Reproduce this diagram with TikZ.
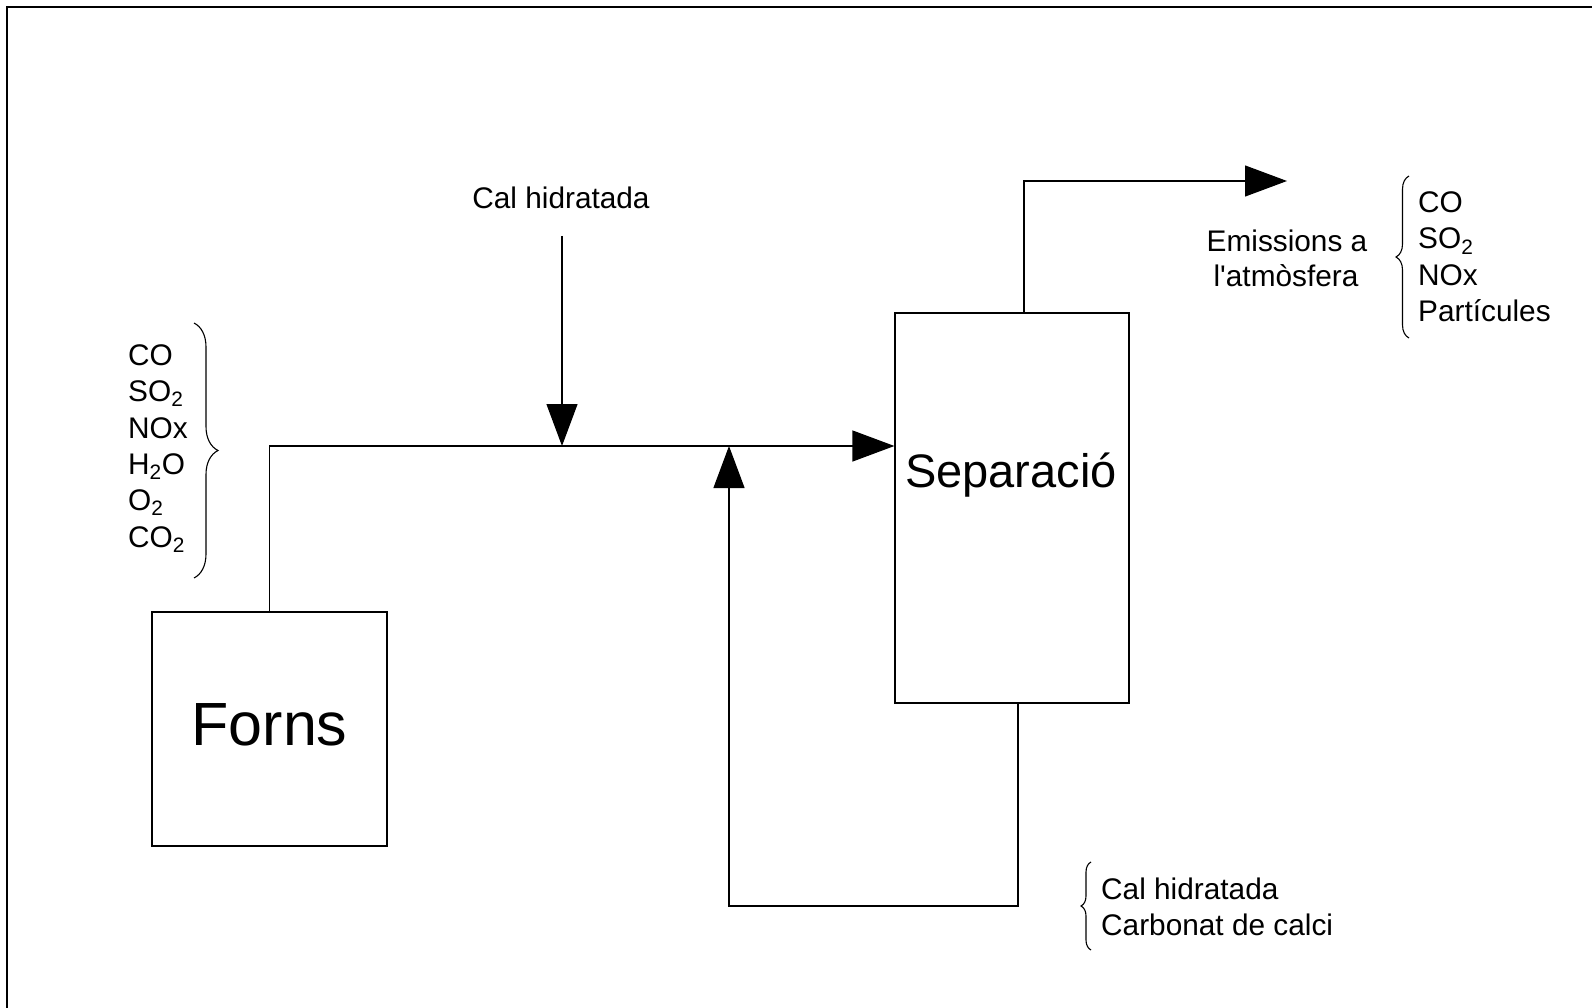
\documentclass[tikz,border=0pt]{standalone}
\usepackage{fontspec}
\setmainfont{Liberation Sans}
\usetikzlibrary{arrows.meta,decorations.pathreplacing}
\begin{document}
\begin{tikzpicture}[x=1pt,y=-1pt,
  wire/.style={line width=1.2pt},
  arr/.style={wire,-{Triangle[length=42pt,width=31pt]}},
  box/.style={draw,line width=1.2pt,inner sep=0pt},
  txt/.style={font=\fontsize{29.8}{34}\selectfont,inner sep=0pt},
  brc/.style={line width=1.1pt,decorate},
]
\useasboundingbox (0,0) rectangle (1592,1008);
\draw[line width=2.5pt] (7,1008) -- (7,7) -- (1592,7);

% boxes
\node[box,minimum width=235pt,minimum height=234pt] (forns) at (269.5,729) {};
\node[anchor=base,inner sep=0pt,font=\fontsize{61}{70}\selectfont] (fornsT) at ([yshift=-16pt]forns.center) {Forns};
\node[box,minimum width=234pt,minimum height=390pt] (sep) at (1012,508) {};
\node[anchor=base,inner sep=0pt,font=\fontsize{47}{54}\selectfont] (sepT) at ([yshift=21pt,xshift=-1pt]sep.center) {Separació};

% coordinates
\coordinate (m1) at (562,446);
\coordinate (m2) at (729,446);
\coordinate (c0) at (562,236);
\coordinate (rb) at (729,906);
\coordinate (e1) at (1287,181);

% main flow
\draw[arr] (forns.north) |- (sep.west |- m1);
% cal hidratada feed
\node[txt,anchor=base] (calh) at (561,209) {Cal hidratada};
\draw[arr] (c0) -- (m1);
% recycle
\draw[arr] ([xshift=6pt]sep.south) |- (rb) -- (m2);
% emissions
\draw[arr] ([xshift=12pt]sep.north) |- (e1);

% left list
\node[txt,anchor=base west] (l1) at (128,365) {CO};
\node[txt,anchor=base west] (l2) at (128,401) {SO\textsubscript{2}};
\node[txt,anchor=base west] (l3) at (128,438) {NOx};
\node[txt,anchor=base west] (l4) at (128,474) {H\textsubscript{2}O};
\node[txt,anchor=base west] (l5) at (128,510) {O\textsubscript{2}};
\node[txt,anchor=base west] (l6) at (128,547) {CO\textsubscript{2}};
\draw[brc,decoration={brace,amplitude=24pt}] (194,323) -- (194,578);

% emissions labels
\node[txt,anchor=base] (em1) at (1287,252) {Emissions a};
\node[txt,anchor=base] (em2) at (1286,287) {l\textquotesingle atmòsfera};
\node[txt,anchor=base west] (r1) at (1418,213) {CO};
\node[txt,anchor=base west] (r2) at (1418,249) {SO\textsubscript{2}};
\node[txt,anchor=base west] (r3) at (1418,286) {NOx};
\node[txt,anchor=base west] (r4) at (1418,321) {Partícules};
\draw[brc,decoration={brace,amplitude=13pt}] (1409,338) -- (1409,176);

% bottom labels
\node[txt,anchor=base west] (b1) at (1101,899) {Cal hidratada};
\node[txt,anchor=base west] (b2) at (1101,935) {Carbonat de calci};
\draw[brc,decoration={brace,amplitude=10pt}] (1091,950) -- (1091,862);
\end{tikzpicture}
\end{document}
